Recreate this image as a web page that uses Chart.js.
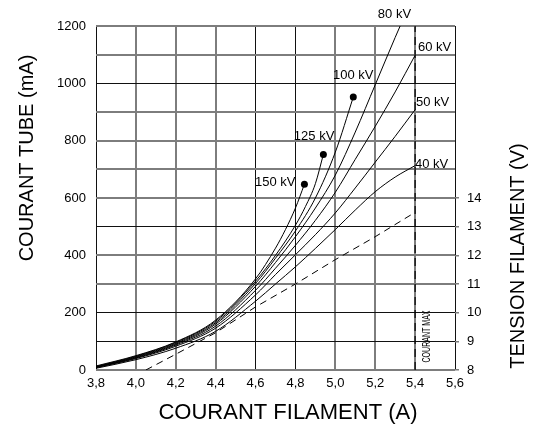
<!DOCTYPE html>
<html>
<head>
<meta charset="utf-8">
<script src="https://cdn.jsdelivr.net/npm/chart.js@4"></script>
<style>
  html, body { margin: 0; padding: 0; background: #fff; }
  canvas { display: block; }
</style>
</head>
<body>
<canvas id="ChartCanvas1" width="544" height="430"></canvas>
<script>
// Courant tube (mA) vs courant filament (A), one curve per kV
const kvNames = ['150 kV', '125 kV', '100 kV', '80 kV', '60 kV', '50 kV', '40 kV'];

const a150 = [3.8, 4.0, 4.2, 4.4, 4.6, 4.7, 4.75, 4.8, 4.845];
const ma150 = [14, 50, 98, 174, 318, 425, 490, 565, 648];

const a125 = [3.8, 4.0, 4.2, 4.4, 4.6, 4.7, 4.8, 4.85, 4.9, 4.94];
const ma125 = [12, 48, 96, 170, 310, 400, 505, 570, 650, 752];

const a100 = [3.8, 4.0, 4.2, 4.4, 4.6, 4.7, 4.8, 4.9, 5.0, 5.09];
const ma100 = [11, 46, 93, 165, 302, 390, 485, 600, 760, 952];

const a80 = [3.8, 4.0, 4.2, 4.4, 4.6, 4.7, 4.8, 4.9, 5.0, 5.1, 5.2, 5.3, 5.325];
const ma80 = [10, 44, 90, 160, 292, 375, 465, 565, 680, 830, 995, 1160, 1200];

const a60 = [3.8, 4.0, 4.2, 4.4, 4.6, 4.7, 4.8, 4.9, 5.0, 5.1, 5.2, 5.3, 5.4];
const ma60 = [9, 42, 87, 153, 278, 355, 435, 522, 620, 735, 850, 970, 1098];

const a50 = [3.8, 4.0, 4.2, 4.4, 4.6, 4.7, 4.8, 4.9, 5.0, 5.1, 5.2, 5.3, 5.4];
const ma50 = [8, 40, 83, 146, 262, 333, 402, 472, 548, 635, 725, 815, 908];

const a40 = [3.8, 4.0, 4.2, 4.4, 4.6, 4.7, 4.8, 4.9, 5.0, 5.1, 5.2, 5.3, 5.4];
const ma40 = [6, 36, 76, 135, 240, 300, 360, 424, 490, 558, 622, 673, 713];

// tension filament (V), dashed line on the right axis
const aTension = [4.05, 4.2, 4.4, 4.6, 4.8, 5.0, 5.2, 5.4];
const vTension = [8.0, 8.55, 9.3, 10.2, 11.0, 11.85, 12.65, 13.5];

// courant max marker
const aMax = [5.4, 5.4];
const maMax = [0, 1200];

// where the kV labels sit (A, mA)
const labelA = [4.597, 4.792, 4.988, 5.213, 5.414, 5.404, 5.399];
const labelMA = [656, 816, 1029, 1242, 1127, 935, 718];

const darkX = [3.8, 4.6, 4.8, 5.6];
const darkY = [100, 200, 500, 1000];

const FONT = '"Liberation Sans", Arial, sans-serif';

function pts(xs, ys)
{
    return xs.map((x, i) => ({ x: x, y: ys[i] }));
}

function curve(xs, ys, dot)
{
    const n = xs.length;
    return {
        data: pts(xs, ys),
        borderColor: '#000',
        backgroundColor: '#000',
        borderWidth: 1,
        cubicInterpolationMode: 'monotone',
        pointRadius: ctx => (dot && ctx.dataIndex === n - 1) ? 3.5 : 0,
        pointBorderWidth: 0,
        yAxisID: 'y'
    };
}

const textPlugin = {
    id: 'texts',
    afterDraw(chart)
    {
        const ctx = chart.ctx;
        const xs = chart.scales.x, ys = chart.scales.y;
        ctx.save();
        ctx.fillStyle = '#000';

        // kV labels
        ctx.font = '13px ' + FONT;
        ctx.textAlign = 'left';
        ctx.textBaseline = 'middle';
        kvNames.forEach((t, i) => {
            ctx.fillText(t, xs.getPixelForValue(labelA[i]), ys.getPixelForValue(labelMA[i]));
        });

        // axis titles
        ctx.textAlign = 'center';
        ctx.font = '22px ' + FONT;
        ctx.fillText('COURANT FILAMENT (A)', 288, 413);

        ctx.font = '20px ' + FONT;
        ctx.save();
        ctx.translate(27, 158);
        ctx.rotate(-Math.PI / 2);
        ctx.fillText('COURANT TUBE (mA)', 0, 0);
        ctx.restore();

        ctx.save();
        ctx.translate(518, 256);
        ctx.rotate(-Math.PI / 2);
        ctx.fillText('TENSION FILAMENT (V)', 0, 0);
        ctx.restore();

        // COURANT MAX, narrow vertical text
        ctx.save();
        ctx.translate(xs.getPixelForValue(5.46), ys.getPixelForValue(117));
        ctx.rotate(-Math.PI / 2);
        ctx.scale(0.64, 1);
        ctx.font = '11px ' + FONT;
        ctx.fillText('COURANT MAX', 0, 0);
        ctx.restore();

        ctx.restore();
    }
};

const tickFont = { family: FONT, size: 13 };

new Chart(document.getElementById('ChartCanvas1').getContext('2d'), {
    type: 'scatter',
    data: {
        datasets: [
            curve(a150, ma150, true),
            curve(a125, ma125, true),
            curve(a100, ma100, true),
            curve(a80, ma80, false),
            curve(a60, ma60, false),
            curve(a50, ma50, false),
            curve(a40, ma40, false),
            {
                data: pts(aTension, vTension),
                borderColor: '#000',
                borderWidth: 1,
                borderDash: [7, 5],
                pointRadius: 0,
                yAxisID: 'y2'
            },
            {
                data: pts(aMax, maMax),
                borderColor: '#000',
                borderWidth: 1.2,
                borderDash: [8, 5],
                pointRadius: 0,
                yAxisID: 'y'
            }
        ].map(d => Object.assign({ showLine: true }, d))
    },
    options: {
        responsive: false,
        devicePixelRatio: 1,
        animation: false,
        layout: { padding: { top: 26, left: 0, right: 0, bottom: 0 } },
        plugins: {
            legend: { display: false },
            tooltip: { enabled: false }
        },
        scales: {
            x: {
                type: 'linear',
                min: 3.8,
                max: 5.6,
                afterFit: s => { s.height = 60; },
                ticks: {
                    stepSize: 0.2,
                    padding: 6,
                    color: '#000',
                    font: tickFont,
                    callback: v => v.toFixed(1).replace('.', ',')
                },
                grid: {
                    tickLength: 0,
                    color: c => (c.tick && darkX.includes(Math.round(c.tick.value * 10) / 10)) ? '#111' : '#7d7d7d',
                    lineWidth: c => (c.tick && darkX.includes(Math.round(c.tick.value * 10) / 10)) ? 1 : 2
                },
                border: { display: false }
            },
            y: {
                min: 0,
                max: 1200,
                afterFit: s => { s.width = 96; },
                ticks: {
                    stepSize: 100,
                    padding: 10,
                    color: '#000',
                    font: tickFont,
                    callback: v => (v % 200 === 0) ? String(v) : ''
                },
                grid: {
                    tickLength: 0,
                    color: c => (c.tick && darkY.includes(c.tick.value)) ? '#111' : '#7d7d7d',
                    lineWidth: c => (c.tick && darkY.includes(c.tick.value)) ? 1 : 2
                },
                border: { display: false }
            },
            y2: {
                position: 'right',
                min: 8,
                max: 20,
                afterFit: s => { s.width = 89; },
                ticks: {
                    stepSize: 1,
                    padding: 8,
                    color: '#000',
                    font: tickFont,
                    callback: v => (v <= 14) ? String(v) : ''
                },
                grid: {
                    drawOnChartArea: false,
                    tickLength: 4,
                    color: c => (c.tick && c.tick.value <= 14) ? '#7d7d7d' : 'rgba(0,0,0,0)',
                    lineWidth: 1.5
                },
                border: { display: false }
            }
        }
    },
    plugins: [textPlugin]
});
</script>
</body>
</html>
